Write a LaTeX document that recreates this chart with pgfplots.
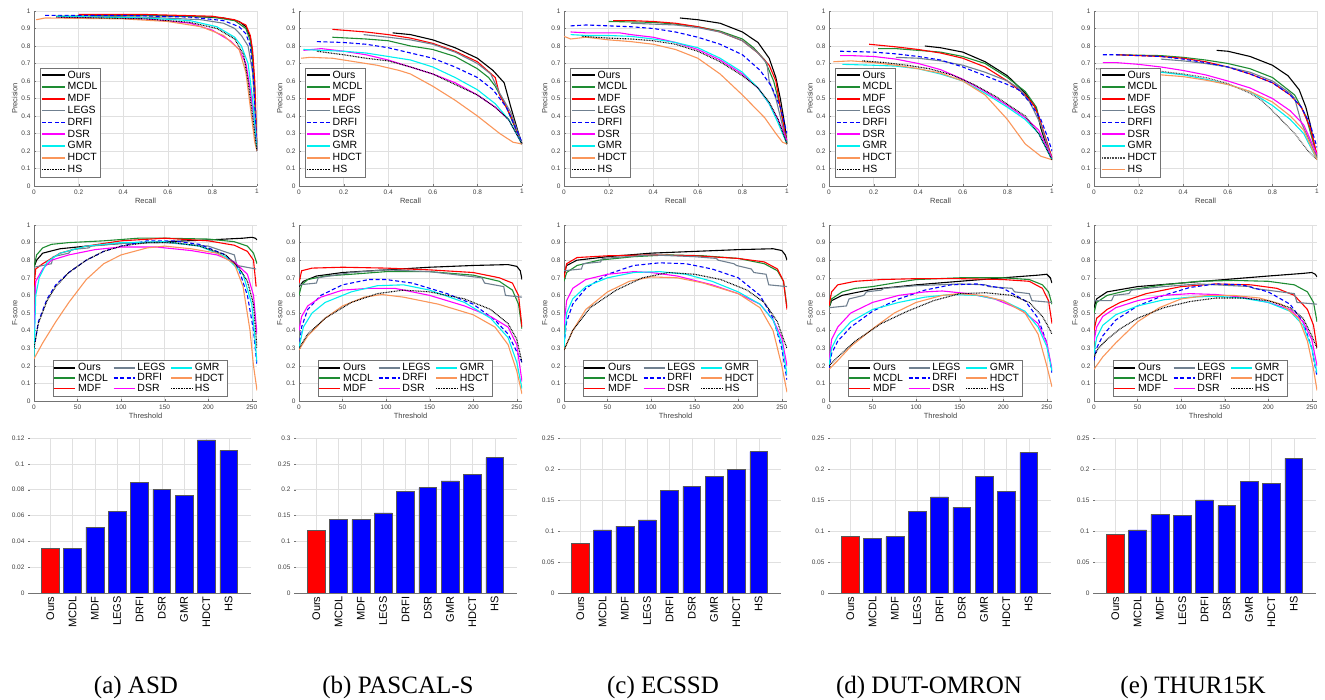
\documentclass[border=0pt]{standalone}
\usepackage{fontspec}
\setmainfont{Liberation Sans}
\newfontfamily\capfont{Liberation Serif}
\usepackage{pgfplots}
\pgfplotsset{compat=1.18}

\definecolor{cMCDL}{RGB}{30,140,50}
\definecolor{cLEGS}{RGB}{112,128,144}
\definecolor{cHDCT}{RGB}{250,150,90}
\definecolor{cGMR}{RGB}{0,240,240}
\definecolor{cDSR}{RGB}{255,0,255}

\tikzset{
  sOurs/.style={black, line width=1.1pt},
  sMCDL/.style={cMCDL, line width=1.1pt},
  sMDF/.style={red, line width=1.1pt},
  sLEGS/.style={cLEGS, line width=1.1pt},
  sDRFI/.style={blue, line width=1.1pt, dash pattern=on 4pt off 2.5pt},
  sDSR/.style={cDSR, line width=1.1pt},
  sGMR/.style={cGMR, line width=1.1pt},
  sHDCT/.style={cHDCT, line width=1.1pt},
  sHS/.style={black, line width=1.1pt, dash pattern=on 0.8pt off 0.8pt},
}

\pgfplotsset{
  base/.style={
    scale only axis, width=223pt,
    axis x line*=bottom, axis y line*=left,
    axis line style={-, black!55},
    grid=major, grid style={black!12, line width=0.4pt},
    tick style={black!55}, major tick length=2pt, tick align=inside,
    ticklabel style={font=\fontsize{6.5}{7}\selectfont, text=black!75},
    label style={font=\fontsize{7.5}{8}\selectfont, text=black!75},
    /pgf/number format/assume math mode=true,
    scaled ticks=false,
    yticklabel style={/pgf/number format/fixed, /pgf/number format/precision=2},
    xticklabel style={/pgf/number format/fixed, /pgf/number format/precision=2},
    legend cell align=left,
    legend image code/.code={\draw[##1, line width=1.5pt] (0pt,0pt) -- (23pt,0pt);},
  },
  prplot/.style={base, height=175pt,
    xmin=0, xmax=1, ymin=0, ymax=1,
    xtick={0,0.2,0.4,0.6,0.8,1},
    ytick={0,0.1,0.2,0.3,0.4,0.5,0.6,0.7,0.8,0.9,1},
    xlabel={Recall}, ylabel={Precision},
    xlabel style={yshift=3pt}, ylabel style={yshift=-3pt},
    legend style={at={(0.027,0.05)}, anchor=south west, draw=black!55,
      font=\fontsize{10.5}{11}\selectfont, inner sep=1pt, row sep=-1pt},
  },
  fplot/.style={base, height=176pt,
    xmin=0, xmax=256, ymin=0, ymax=1,
    xtick={0,50,100,150,200,250},
    ytick={0,0.1,0.2,0.3,0.4,0.5,0.6,0.7,0.8,0.9,1},
    xlabel={Threshold}, ylabel={F-score},
    xlabel style={yshift=3pt}, ylabel style={yshift=-3pt},
    legend columns=3, legend transposed=true,
    legend style={at={(0.475,0.028)}, anchor=south, draw=black!55,
      font=\fontsize{10.5}{11}\selectfont, inner sep=1pt, row sep=-2.5pt,
      /tikz/every even column/.append style={column sep=3pt}},
    legend image code/.code={\draw[##1, line width=1.5pt] (0pt,0pt) -- (21pt,0pt);},
  },
  barplot/.style={base, height=155pt,
    xmin=0, xmax=10, ymin=0,
    axis y line*=left, y axis line style={draw=none},
    x axis line style={black!55, line width=0.8pt},
    xtick={1,2,3,4,5,6,7,8,9},
    xticklabels={Ours,MCDL,MDF,LEGS,DRFI,DSR,GMR,HDCT,HS},
    xticklabel style={rotate=90, anchor=east, font=\fontsize{11}{12}\selectfont, text=black},
    xmajorgrids, ymajorgrids,
  },
  ours bar/.style={ybar, bar width=0.8, bar shift=0pt, fill=red, draw=black!65, line width=0.5pt},
  rest bar/.style={ybar, bar width=0.8, bar shift=0pt, fill=blue, draw=black!65, line width=0.5pt},
}

\begin{document}
\begin{tikzpicture}
\path[use as bounding box] (0pt,0pt) rectangle (1325pt,700pt);

% ---------------- row 1: precision-recall ----------------
\begin{axis}[prplot, at={(34pt,514pt)}, anchor=south west]
\addplot[sOurs] coordinates {(0.25,0.975) (0.5,0.975) (0.7,0.97) (0.85,0.96) (0.92,0.94) (0.95,0.91) (0.97,0.85) (0.98,0.75) (0.99,0.55) (0.995,0.35) (1,0.2)};
\addlegendentry{Ours}
\addplot[sMCDL] coordinates {(0.1,0.97) (0.5,0.975) (0.8,0.965) (0.9,0.945) (0.95,0.9) (0.97,0.83) (0.98,0.72) (0.99,0.5) (1,0.2)};
\addlegendentry{MCDL}
\addplot[sMDF] coordinates {(0.2,0.98) (0.5,0.98) (0.8,0.97) (0.9,0.95) (0.95,0.92) (0.97,0.86) (0.98,0.78) (0.99,0.6) (1,0.2)};
\addlegendentry{MDF}
\addplot[sLEGS] coordinates {(0.25,0.97) (0.5,0.965) (0.75,0.95) (0.85,0.93) (0.9,0.9) (0.93,0.86) (0.96,0.8) (0.98,0.65) (0.99,0.45) (1,0.2)};
\addlegendentry{LEGS}
\addplot[sDRFI] coordinates {(0.05,0.975) (0.4,0.975) (0.7,0.965) (0.85,0.945) (0.92,0.91) (0.95,0.87) (0.97,0.8) (0.985,0.6) (1,0.2)};
\addlegendentry{DRFI}
\addplot[sDSR] coordinates {(0.1,0.965) (0.5,0.955) (0.7,0.93) (0.8,0.89) (0.88,0.83) (0.92,0.78) (0.95,0.7) (0.97,0.55) (0.99,0.35) (1,0.2)};
\addlegendentry{DSR}
\addplot[sGMR] coordinates {(0.1,0.97) (0.5,0.96) (0.7,0.945) (0.82,0.91) (0.9,0.85) (0.93,0.8) (0.96,0.7) (0.98,0.5) (1,0.2)};
\addlegendentry{GMR}
\addplot[sHDCT] coordinates {(0.01,0.95) (0.05,0.96) (0.4,0.955) (0.6,0.94) (0.75,0.91) (0.85,0.86) (0.92,0.78) (0.95,0.65) (0.97,0.45) (0.99,0.25) (1,0.2)};
\addlegendentry{HDCT}
\addplot[sHS] coordinates {(0.1,0.965) (0.5,0.955) (0.7,0.935) (0.82,0.9) (0.9,0.84) (0.94,0.75) (0.96,0.6) (0.98,0.4) (1,0.2)};
\addlegendentry{HS}
\end{axis}

\begin{axis}[prplot, at={(299pt,514pt)}, anchor=south west]
\addplot[sOurs] coordinates {(0.42,0.875) (0.5,0.865) (0.6,0.835) (0.7,0.79) (0.8,0.73) (0.87,0.66) (0.92,0.59) (0.95,0.45) (0.98,0.32) (1,0.24)};
\addlegendentry{Ours}
\addplot[sMCDL] coordinates {(0.15,0.85) (0.3,0.84) (0.4,0.83) (0.5,0.8) (0.6,0.78) (0.7,0.74) (0.8,0.67) (0.85,0.62) (0.88,0.57) (0.93,0.45) (1,0.24)};
\addlegendentry{MCDL}
\addplot[sMDF] coordinates {(0.15,0.895) (0.3,0.88) (0.4,0.865) (0.5,0.845) (0.6,0.815) (0.7,0.77) (0.8,0.71) (0.88,0.62) (0.9,0.52) (0.95,0.4) (1,0.24)};
\addlegendentry{MDF}
\addplot[sLEGS] coordinates {(0.29,0.865) (0.4,0.85) (0.5,0.835) (0.6,0.81) (0.7,0.765) (0.8,0.7) (0.86,0.64) (0.9,0.53) (0.95,0.42) (1,0.24)};
\addlegendentry{LEGS}
\addplot[sDRFI] coordinates {(0.08,0.825) (0.2,0.82) (0.3,0.81) (0.4,0.79) (0.5,0.76) (0.6,0.73) (0.7,0.68) (0.8,0.62) (0.87,0.55) (0.93,0.45) (1,0.25)};
\addlegendentry{DRFI}
\addplot[sDSR] coordinates {(0.02,0.775) (0.1,0.785) (0.2,0.77) (0.3,0.75) (0.4,0.72) (0.5,0.68) (0.6,0.64) (0.7,0.59) (0.8,0.52) (0.88,0.45) (0.94,0.38) (1,0.24)};
\addlegendentry{DSR}
\addplot[sGMR] coordinates {(0.02,0.78) (0.1,0.775) (0.2,0.77) (0.3,0.76) (0.4,0.74) (0.5,0.72) (0.6,0.68) (0.7,0.62) (0.8,0.55) (0.88,0.47) (0.94,0.38) (1,0.24)};
\addlegendentry{GMR}
\addplot[sHDCT] coordinates {(0.01,0.73) (0.05,0.735) (0.15,0.73) (0.25,0.71) (0.35,0.69) (0.45,0.66) (0.5,0.64) (0.6,0.57) (0.7,0.49) (0.8,0.4) (0.9,0.3) (0.96,0.25) (1,0.24)};
\addlegendentry{HDCT}
\addplot[sHS] coordinates {(0.08,0.77) (0.2,0.75) (0.3,0.73) (0.4,0.715) (0.5,0.68) (0.6,0.64) (0.7,0.58) (0.8,0.52) (0.88,0.45) (0.94,0.38) (1,0.24)};
\addlegendentry{HS}
\end{axis}

\begin{axis}[prplot, at={(564pt,514pt)}, anchor=south west]
\addplot[sOurs] coordinates {(0.52,0.96) (0.6,0.95) (0.7,0.93) (0.8,0.88) (0.87,0.82) (0.92,0.73) (0.95,0.62) (0.97,0.5) (0.99,0.35) (1,0.24)};
\addlegendentry{Ours}
\addplot[sMCDL] coordinates {(0.2,0.94) (0.4,0.935) (0.5,0.925) (0.6,0.91) (0.7,0.885) (0.8,0.84) (0.85,0.79) (0.9,0.72) (0.94,0.6) (0.97,0.45) (1,0.24)};
\addlegendentry{MCDL}
\addplot[sMDF] coordinates {(0.22,0.945) (0.3,0.945) (0.4,0.94) (0.5,0.93) (0.6,0.91) (0.7,0.88) (0.8,0.83) (0.87,0.76) (0.92,0.69) (0.95,0.6) (0.97,0.45) (1,0.24)};
\addlegendentry{MDF}
\addplot[sLEGS] coordinates {(0.3,0.93) (0.4,0.925) (0.5,0.92) (0.6,0.905) (0.7,0.88) (0.8,0.83) (0.87,0.76) (0.91,0.7) (0.92,0.6) (0.95,0.5) (1,0.24)};
\addlegendentry{LEGS}
\addplot[sDRFI] coordinates {(0.03,0.915) (0.1,0.92) (0.2,0.915) (0.3,0.91) (0.4,0.9) (0.5,0.88) (0.6,0.85) (0.7,0.81) (0.8,0.75) (0.88,0.66) (0.93,0.57) (0.97,0.45) (1,0.3)};
\addlegendentry{DRFI}
\addplot[sDSR] coordinates {(0.03,0.88) (0.1,0.875) (0.2,0.875) (0.25,0.875) (0.3,0.865) (0.4,0.85) (0.5,0.82) (0.6,0.78) (0.7,0.72) (0.8,0.64) (0.87,0.56) (0.92,0.47) (0.96,0.38) (1,0.26)};
\addlegendentry{DSR}
\addplot[sGMR] coordinates {(0.03,0.865) (0.1,0.86) (0.2,0.86) (0.3,0.855) (0.4,0.84) (0.5,0.82) (0.6,0.79) (0.7,0.73) (0.8,0.65) (0.87,0.56) (0.92,0.47) (0.96,0.36) (1,0.24)};
\addlegendentry{GMR}
\addplot[sHDCT] coordinates {(0,0.855) (0.03,0.84) (0.1,0.85) (0.2,0.835) (0.3,0.825) (0.4,0.81) (0.5,0.78) (0.6,0.73) (0.7,0.64) (0.8,0.52) (0.9,0.39) (0.95,0.3) (0.98,0.25) (1,0.24)};
\addlegendentry{HDCT}
\addplot[sHS] coordinates {(0.08,0.855) (0.2,0.845) (0.3,0.84) (0.4,0.83) (0.5,0.81) (0.6,0.77) (0.7,0.71) (0.8,0.63) (0.87,0.56) (0.92,0.48) (0.96,0.38) (1,0.24)};
\addlegendentry{HS}
\end{axis}

\begin{axis}[prplot, at={(829pt,514pt)}, anchor=south west]
\addplot[sOurs] coordinates {(0.43,0.8) (0.5,0.79) (0.6,0.765) (0.7,0.71) (0.8,0.63) (0.88,0.53) (0.93,0.44) (0.95,0.33) (0.97,0.25) (1,0.15)};
\addlegendentry{Ours}
\addplot[sMCDL] coordinates {(0.22,0.785) (0.3,0.785) (0.4,0.775) (0.5,0.765) (0.6,0.74) (0.7,0.7) (0.8,0.62) (0.88,0.54) (0.93,0.45) (0.95,0.35) (1,0.16)};
\addlegendentry{MCDL}
\addplot[sMDF] coordinates {(0.18,0.81) (0.3,0.795) (0.4,0.78) (0.5,0.76) (0.6,0.73) (0.7,0.68) (0.8,0.6) (0.88,0.52) (0.92,0.46) (0.94,0.4) (0.97,0.28) (1,0.16)};
\addlegendentry{MDF}
\addplot[sLEGS] coordinates {(0.3,0.735) (0.4,0.73) (0.5,0.715) (0.6,0.69) (0.7,0.65) (0.8,0.6) (0.85,0.56) (0.9,0.48) (0.95,0.35) (1,0.15)};
\addlegendentry{LEGS}
\addplot[sDRFI] coordinates {(0.05,0.77) (0.2,0.765) (0.3,0.755) (0.4,0.74) (0.5,0.72) (0.6,0.68) (0.7,0.63) (0.8,0.58) (0.85,0.55) (0.9,0.48) (0.95,0.38) (0.98,0.28) (1,0.2)};
\addlegendentry{DRFI}
\addplot[sDSR] coordinates {(0.05,0.745) (0.1,0.745) (0.2,0.74) (0.3,0.725) (0.4,0.7) (0.5,0.665) (0.6,0.61) (0.7,0.54) (0.8,0.46) (0.88,0.39) (0.94,0.32) (1,0.16)};
\addlegendentry{DSR}
\addplot[sGMR] coordinates {(0.06,0.695) (0.2,0.69) (0.3,0.685) (0.4,0.67) (0.5,0.64) (0.6,0.6) (0.7,0.53) (0.8,0.45) (0.88,0.38) (0.94,0.3) (1,0.15)};
\addlegendentry{GMR}
\addplot[sHDCT] coordinates {(0.02,0.71) (0.1,0.715) (0.2,0.705) (0.3,0.69) (0.4,0.67) (0.5,0.645) (0.6,0.6) (0.7,0.52) (0.8,0.38) (0.88,0.24) (0.95,0.17) (1,0.15)};
\addlegendentry{HDCT}
\addplot[sHS] coordinates {(0.15,0.715) (0.25,0.705) (0.35,0.69) (0.45,0.67) (0.55,0.635) (0.65,0.58) (0.75,0.51) (0.82,0.45) (0.88,0.4) (0.94,0.3) (1,0.15)};
\addlegendentry{HS}
\end{axis}

\begin{axis}[prplot, at={(1094pt,514pt)}, anchor=south west]
\addplot[sOurs] coordinates {(0.55,0.775) (0.6,0.77) (0.7,0.74) (0.8,0.69) (0.87,0.63) (0.92,0.55) (0.95,0.45) (0.97,0.35) (0.985,0.25) (1,0.16)};
\addlegendentry{Ours}
\addplot[sMCDL] coordinates {(0.1,0.75) (0.3,0.745) (0.4,0.735) (0.5,0.72) (0.6,0.7) (0.7,0.67) (0.8,0.62) (0.86,0.56) (0.9,0.52) (0.95,0.4) (1,0.17)};
\addlegendentry{MCDL}
\addplot[sMDF] coordinates {(0.1,0.75) (0.3,0.74) (0.4,0.73) (0.5,0.71) (0.6,0.68) (0.7,0.64) (0.8,0.59) (0.88,0.52) (0.93,0.45) (0.97,0.33) (1,0.18)};
\addlegendentry{MDF}
\addplot[sLEGS] coordinates {(0.3,0.725) (0.4,0.715) (0.5,0.7) (0.6,0.68) (0.7,0.65) (0.8,0.6) (0.88,0.53) (0.9,0.5) (0.93,0.36) (0.97,0.25) (1,0.16)};
\addlegendentry{LEGS}
\addplot[sDRFI] coordinates {(0.04,0.75) (0.1,0.75) (0.2,0.745) (0.3,0.74) (0.4,0.725) (0.5,0.705) (0.6,0.68) (0.7,0.64) (0.8,0.59) (0.88,0.52) (0.93,0.45) (0.97,0.35) (1,0.22)};
\addlegendentry{DRFI}
\addplot[sDSR] coordinates {(0.04,0.705) (0.1,0.705) (0.2,0.695) (0.3,0.68) (0.4,0.66) (0.5,0.635) (0.6,0.6) (0.7,0.56) (0.8,0.5) (0.88,0.43) (0.94,0.35) (1,0.18)};
\addlegendentry{DSR}
\addplot[sGMR] coordinates {(0.05,0.67) (0.2,0.665) (0.3,0.65) (0.4,0.635) (0.5,0.61) (0.6,0.58) (0.7,0.54) (0.8,0.46) (0.88,0.38) (0.94,0.3) (1,0.15)};
\addlegendentry{GMR}
\addplot[sHS, black!70] coordinates {(0.01,0.67) (0.1,0.665) (0.2,0.66) (0.3,0.655) (0.4,0.64) (0.5,0.62) (0.6,0.585) (0.7,0.53) (0.75,0.49) (0.8,0.43) (0.9,0.3) (0.96,0.2) (1,0.15)};
\addlegendentry{HDCT}
\addplot[sHDCT] coordinates {(0.05,0.64) (0.15,0.64) (0.3,0.635) (0.4,0.625) (0.5,0.605) (0.6,0.58) (0.7,0.54) (0.8,0.48) (0.88,0.4) (0.94,0.32) (1,0.15)};
\addlegendentry{HS}
\end{axis}

% ---------------- row 2: F-score vs threshold ----------------
\begin{axis}[fplot, at={(34pt,299pt)}, anchor=south west]
\addplot[sOurs] coordinates {(0,0.76) (3,0.8) (10,0.84) (30,0.865) (60,0.88) (100,0.895) (150,0.905) (200,0.915) (240,0.925) (250,0.93) (254,0.925) (256,0.915)};
\addlegendentry{Ours}
\addplot[sMCDL] coordinates {(0,0.76) (3,0.83) (10,0.87) (20,0.89) (40,0.9) (80,0.91) (120,0.925) (150,0.925) (200,0.92) (230,0.905) (245,0.88) (252,0.84) (256,0.78)};
\addlegendentry{MCDL}
\addplot[sMDF] coordinates {(0,0.65) (2,0.75) (10,0.78) (30,0.84) (60,0.88) (100,0.91) (150,0.925) (200,0.91) (230,0.885) (245,0.85) (252,0.8) (255,0.65)};
\addlegendentry{MDF}
\addplot[sLEGS] coordinates {(0,0.76) (20,0.78) (22,0.82) (40,0.84) (43,0.86) (63,0.87) (65,0.88) (100,0.895) (150,0.9) (200,0.88) (230,0.83) (233,0.77) (255,0.75)};
\addlegendentry{LEGS}
\addplot[sDRFI] coordinates {(0,0.3) (5,0.45) (15,0.58) (25,0.66) (40,0.73) (60,0.8) (80,0.85) (100,0.88) (130,0.91) (160,0.91) (190,0.89) (220,0.83) (235,0.75) (245,0.6) (252,0.4) (256,0.2)};
\addlegendentry{DRFI}
\addplot[sDSR] coordinates {(0,0.35) (2,0.68) (10,0.75) (20,0.8) (40,0.83) (70,0.86) (100,0.875) (140,0.875) (180,0.855) (210,0.83) (230,0.79) (245,0.72) (252,0.6) (256,0.38)};
\addlegendentry{DSR}
\addplot[sGMR] coordinates {(0,0.25) (2,0.6) (6,0.7) (15,0.79) (30,0.84) (60,0.88) (100,0.9) (150,0.905) (190,0.88) (220,0.82) (240,0.72) (250,0.55) (256,0.22)};
\addlegendentry{GMR}
\addplot[sHDCT] coordinates {(0,0.24) (10,0.33) (25,0.45) (40,0.56) (60,0.69) (80,0.78) (100,0.83) (130,0.87) (150,0.88) (180,0.865) (210,0.84) (230,0.78) (240,0.65) (248,0.4) (252,0.2) (256,0.06)};
\addlegendentry{HDCT}
\addplot[sHS] coordinates {(0,0.3) (5,0.44) (15,0.57) (25,0.65) (40,0.73) (60,0.8) (80,0.85) (100,0.88) (130,0.9) (160,0.9) (190,0.88) (220,0.83) (235,0.76) (245,0.68) (252,0.55) (256,0.3)};
\addlegendentry{HS}
\end{axis}

\begin{axis}[fplot, at={(299pt,299pt)}, anchor=south west]
\addplot[sOurs] coordinates {(0,0.65) (5,0.68) (20,0.71) (50,0.73) (100,0.745) (150,0.76) (200,0.77) (240,0.775) (250,0.765) (254,0.74) (256,0.69)};
\addlegendentry{Ours}
\addplot[sMCDL] coordinates {(0,0.6) (3,0.66) (10,0.69) (30,0.71) (60,0.72) (100,0.735) (150,0.735) (200,0.715) (230,0.68) (245,0.63) (252,0.55) (256,0.41)};
\addlegendentry{MCDL}
\addplot[sMDF] coordinates {(0,0.67) (3,0.74) (15,0.755) (50,0.76) (100,0.755) (150,0.745) (200,0.73) (230,0.7) (245,0.67) (252,0.6) (256,0.42)};
\addlegendentry{MDF}
\addplot[sLEGS] coordinates {(0,0.66) (20,0.67) (22,0.7) (60,0.73) (100,0.745) (150,0.735) (210,0.7) (213,0.67) (235,0.65) (237,0.6) (256,0.59)};
\addlegendentry{LEGS}
\addplot[sDRFI] coordinates {(0,0.3) (3,0.42) (10,0.52) (25,0.6) (50,0.66) (80,0.69) (100,0.69) (130,0.67) (170,0.61) (200,0.55) (225,0.46) (240,0.38) (250,0.28) (256,0.22)};
\addlegendentry{DRFI}
\addplot[sDSR] coordinates {(0,0.4) (3,0.48) (10,0.54) (25,0.59) (50,0.63) (80,0.64) (110,0.64) (150,0.6) (190,0.54) (220,0.48) (240,0.42) (250,0.32) (256,0.11)};
\addlegendentry{DSR}
\addplot[sGMR] coordinates {(0,0.3) (5,0.42) (15,0.5) (30,0.56) (60,0.62) (90,0.655) (120,0.66) (150,0.63) (190,0.56) (220,0.47) (240,0.36) (250,0.22) (256,0.07)};
\addlegendentry{GMR}
\addplot[sHDCT] coordinates {(0,0.29) (10,0.37) (30,0.47) (50,0.54) (75,0.59) (95,0.605) (120,0.59) (160,0.55) (200,0.49) (225,0.42) (240,0.32) (250,0.17) (256,0.04)};
\addlegendentry{HDCT}
\addplot[sHS] coordinates {(0,0.3) (10,0.38) (30,0.47) (60,0.56) (90,0.61) (120,0.63) (150,0.62) (190,0.58) (220,0.52) (240,0.44) (250,0.35) (256,0.22)};
\addlegendentry{HS}
\end{axis}

\begin{axis}[fplot, at={(564pt,299pt)}, anchor=south west]
\addplot[sOurs] coordinates {(0,0.72) (3,0.77) (15,0.8) (50,0.82) (100,0.84) (150,0.85) (200,0.86) (240,0.865) (250,0.855) (254,0.83) (256,0.8)};
\addlegendentry{Ours}
\addplot[sMCDL] coordinates {(0,0.68) (3,0.73) (15,0.77) (40,0.8) (80,0.82) (120,0.83) (160,0.825) (200,0.81) (230,0.78) (245,0.74) (252,0.68) (256,0.53)};
\addlegendentry{MCDL}
\addplot[sMDF] coordinates {(0,0.7) (3,0.78) (15,0.815) (50,0.825) (100,0.83) (150,0.825) (200,0.81) (230,0.79) (245,0.75) (252,0.68) (256,0.52)};
\addlegendentry{MDF}
\addplot[sLEGS] coordinates {(0,0.74) (20,0.75) (22,0.78) (42,0.79) (44,0.81) (100,0.83) (150,0.82) (175,0.81) (177,0.8) (195,0.78) (198,0.77) (215,0.75) (218,0.73) (232,0.72) (235,0.66) (256,0.65)};
\addlegendentry{LEGS}
\addplot[sDRFI] coordinates {(0,0.32) (3,0.45) (10,0.55) (25,0.64) (50,0.72) (80,0.77) (110,0.785) (140,0.78) (170,0.75) (200,0.7) (225,0.6) (240,0.47) (250,0.3) (256,0.12)};
\addlegendentry{DRFI}
\addplot[sDSR] coordinates {(0,0.43) (3,0.57) (10,0.64) (25,0.69) (50,0.72) (80,0.735) (100,0.73) (130,0.71) (170,0.66) (200,0.61) (225,0.55) (240,0.46) (250,0.36) (256,0.2)};
\addlegendentry{DSR}
\addplot[sGMR] coordinates {(0,0.3) (3,0.5) (10,0.58) (25,0.65) (50,0.7) (80,0.73) (110,0.735) (140,0.72) (170,0.68) (200,0.62) (225,0.55) (240,0.46) (250,0.33) (256,0.15)};
\addlegendentry{GMR}
\addplot[sHDCT] coordinates {(0,0.29) (10,0.4) (25,0.52) (50,0.62) (75,0.68) (100,0.705) (130,0.7) (160,0.67) (200,0.61) (225,0.53) (240,0.4) (250,0.2) (256,0.05)};
\addlegendentry{HDCT}
\addplot[sHS] coordinates {(0,0.29) (10,0.4) (30,0.53) (60,0.63) (90,0.7) (120,0.73) (150,0.72) (180,0.69) (210,0.63) (230,0.56) (245,0.45) (252,0.35) (256,0.3)};
\addlegendentry{HS}
\end{axis}

\begin{axis}[fplot, at={(829pt,299pt)}, anchor=south west]
\addplot[sOurs] coordinates {(0,0.53) (3,0.57) (15,0.6) (50,0.635) (100,0.66) (150,0.68) (200,0.7) (240,0.715) (250,0.72) (254,0.7) (256,0.67)};
\addlegendentry{Ours}
\addplot[sMCDL] coordinates {(0,0.53) (3,0.58) (15,0.62) (30,0.64) (50,0.65) (80,0.675) (100,0.69) (150,0.7) (200,0.7) (230,0.69) (245,0.66) (252,0.62) (256,0.55)};
\addlegendentry{MCDL}
\addplot[sMDF] coordinates {(0,0.54) (3,0.62) (10,0.66) (30,0.68) (60,0.69) (100,0.695) (150,0.695) (200,0.69) (230,0.68) (245,0.64) (252,0.57) (256,0.44)};
\addlegendentry{MDF}
\addplot[sLEGS] coordinates {(0,0.53) (20,0.54) (23,0.58) (40,0.6) (43,0.62) (60,0.63) (63,0.64) (100,0.655) (150,0.665) (180,0.66) (183,0.65) (210,0.64) (213,0.62) (230,0.61) (233,0.57) (256,0.56)};
\addlegendentry{LEGS}
\addplot[sDRFI] coordinates {(0,0.18) (3,0.27) (10,0.34) (25,0.42) (50,0.51) (80,0.58) (110,0.63) (140,0.66) (170,0.665) (200,0.64) (225,0.57) (240,0.47) (250,0.33) (256,0.16)};
\addlegendentry{DRFI}
\addplot[sDSR] coordinates {(0,0.22) (3,0.35) (10,0.42) (25,0.5) (50,0.56) (80,0.6) (110,0.62) (130,0.625) (160,0.61) (190,0.58) (220,0.52) (240,0.44) (250,0.33) (256,0.18)};
\addlegendentry{DSR}
\addplot[sGMR] coordinates {(0,0.2) (3,0.3) (10,0.37) (25,0.45) (50,0.52) (80,0.56) (110,0.59) (140,0.605) (170,0.6) (200,0.57) (225,0.51) (240,0.42) (250,0.31) (256,0.17)};
\addlegendentry{GMR}
\addplot[sHDCT] coordinates {(0,0.18) (10,0.23) (25,0.31) (50,0.41) (75,0.5) (100,0.56) (130,0.6) (150,0.61) (175,0.6) (200,0.57) (225,0.5) (240,0.38) (250,0.2) (256,0.08)};
\addlegendentry{HDCT}
\addplot[sHS] coordinates {(0,0.2) (10,0.25) (30,0.34) (60,0.44) (90,0.51) (120,0.57) (150,0.61) (180,0.615) (210,0.6) (230,0.56) (245,0.48) (252,0.42) (256,0.38)};
\addlegendentry{HS}
\end{axis}

\begin{axis}[fplot, at={(1094pt,299pt)}, anchor=south west]
\addplot[sOurs] coordinates {(0,0.53) (3,0.58) (15,0.62) (50,0.65) (100,0.67) (150,0.69) (200,0.71) (240,0.725) (250,0.73) (254,0.72) (256,0.705)};
\addlegendentry{Ours}
\addplot[sMCDL] coordinates {(0,0.5) (3,0.56) (15,0.6) (40,0.63) (80,0.66) (120,0.68) (160,0.685) (200,0.68) (230,0.66) (245,0.62) (252,0.56) (256,0.45)};
\addlegendentry{MCDL}
\addplot[sMDF] coordinates {(0,0.4) (3,0.47) (15,0.52) (30,0.56) (60,0.61) (100,0.65) (140,0.665) (180,0.66) (210,0.64) (230,0.6) (245,0.52) (252,0.43) (256,0.3)};
\addlegendentry{MDF}
\addplot[sLEGS] coordinates {(0,0.57) (20,0.57) (23,0.6) (40,0.61) (43,0.63) (80,0.65) (120,0.665) (180,0.65) (183,0.64) (230,0.61) (233,0.56) (256,0.55)};
\addlegendentry{LEGS}
\addplot[sDRFI] coordinates {(0,0.23) (3,0.3) (10,0.37) (25,0.46) (50,0.54) (80,0.6) (110,0.645) (140,0.665) (170,0.66) (200,0.62) (225,0.55) (240,0.45) (250,0.3) (256,0.14)};
\addlegendentry{DRFI}
\addplot[sDSR] coordinates {(0,0.34) (3,0.42) (10,0.48) (25,0.53) (50,0.57) (80,0.6) (110,0.61) (140,0.605) (170,0.59) (200,0.56) (225,0.52) (240,0.45) (250,0.35) (256,0.2)};
\addlegendentry{DSR}
\addplot[sGMR] coordinates {(0,0.27) (3,0.36) (10,0.43) (25,0.49) (50,0.54) (80,0.575) (110,0.59) (140,0.595) (170,0.585) (200,0.56) (225,0.51) (240,0.43) (250,0.3) (256,0.16)};
\addlegendentry{GMR}
\addplot[sHDCT] coordinates {(0,0.18) (10,0.25) (25,0.33) (50,0.45) (75,0.53) (100,0.58) (130,0.6) (160,0.6) (190,0.585) (215,0.55) (235,0.47) (245,0.34) (252,0.18) (256,0.06)};
\addlegendentry{HDCT}
\addplot[sHS] coordinates {(0,0.25) (5,0.3) (15,0.35) (30,0.41) (50,0.47) (80,0.53) (110,0.565) (140,0.585) (170,0.585) (200,0.57) (225,0.53) (240,0.47) (250,0.37) (256,0.3)};
\addlegendentry{HS}
\end{axis}

% ---------------- row 3: MAE bars ----------------
\begin{axis}[barplot, at={(28pt,107pt)}, anchor=south west, ymax=0.12,
  ytick={0,0.02,0.04,0.06,0.08,0.1,0.12}]
\addplot[ours bar] coordinates {(1,0.035)};
\addplot[rest bar] coordinates {(2,0.0345) (3,0.051) (4,0.063) (5,0.0855) (6,0.080) (7,0.0755) (8,0.1185) (9,0.1105)};
\end{axis}

\begin{axis}[barplot, at={(294pt,107pt)}, anchor=south west, ymax=0.3,
  ytick={0,0.05,0.1,0.15,0.2,0.25,0.3}]
\addplot[ours bar] coordinates {(1,0.121)};
\addplot[rest bar] coordinates {(2,0.142) (3,0.142) (4,0.155) (5,0.196) (6,0.204) (7,0.217) (8,0.229) (9,0.262)};
\end{axis}

\begin{axis}[barplot, at={(558pt,107pt)}, anchor=south west, ymax=0.25,
  ytick={0,0.05,0.1,0.15,0.2,0.25}]
\addplot[ours bar] coordinates {(1,0.080)};
\addplot[rest bar] coordinates {(2,0.102) (3,0.108) (4,0.118) (5,0.165) (6,0.172) (7,0.188) (8,0.199) (9,0.228)};
\end{axis}

\begin{axis}[barplot, at={(828pt,107pt)}, anchor=south west, ymax=0.25,
  ytick={0,0.05,0.1,0.15,0.2,0.25}]
\addplot[ours bar] coordinates {(1,0.091)};
\addplot[rest bar] coordinates {(2,0.088) (3,0.091) (4,0.132) (5,0.155) (6,0.138) (7,0.188) (8,0.164) (9,0.227)};
\end{axis}

\begin{axis}[barplot, at={(1093pt,107pt)}, anchor=south west, ymax=0.25,
  ytick={0,0.05,0.1,0.15,0.2,0.25}]
\addplot[ours bar] coordinates {(1,0.095)};
\addplot[rest bar] coordinates {(2,0.102) (3,0.127) (4,0.125) (5,0.150) (6,0.141) (7,0.180) (8,0.177) (9,0.217)};
\end{axis}

% ---------------- captions ----------------
\begin{scope}[every node/.style={font=\capfont\fontsize{25}{28}\selectfont, anchor=base}]
\node at (136pt,6pt) {(a) ASD};
\node at (398pt,6pt) {(b) PASCAL-S};
\node at (663pt,6pt) {(c) ECSSD};
\node at (929pt,6pt) {(d) DUT-OMRON};
\node at (1193pt,6pt) {(e) THUR15K};
\end{scope}
\end{tikzpicture}
\end{document}
